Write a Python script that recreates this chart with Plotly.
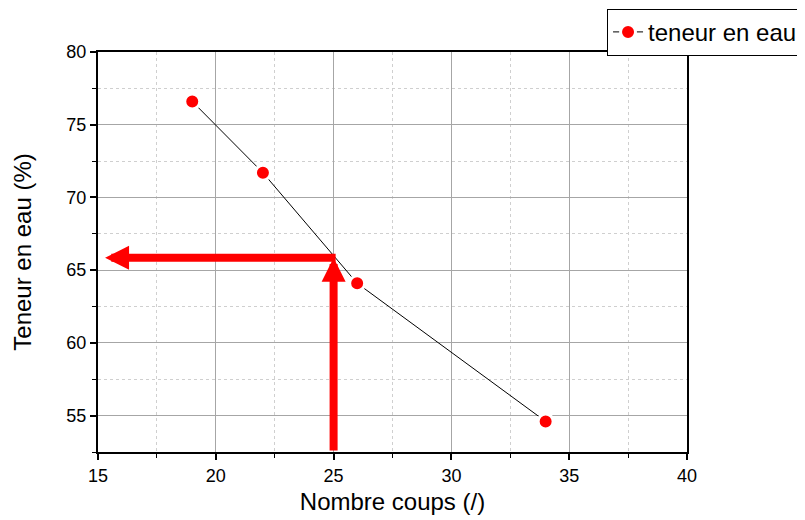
import plotly.graph_objects as go

# Data
nombre_coups = [19, 22, 26, 34]
teneur_eau = [76.6, 71.7, 64.1, 54.6]
series_name = "teneur en eau"

# Reading at 25 blows
x_ref = 25
y_ref = 65.85

x_ticks = [15, 20, 25, 30, 35, 40]
y_ticks = [55, 60, 65, 70, 75, 80]

fig = go.Figure()
fig.add_trace(go.Scatter(
    x=nombre_coups, y=teneur_eau, name=series_name,
    mode="lines+markers",
    line=dict(color="black", width=1),
    marker=dict(color="red", size=15, line=dict(color="white", width=3)),
    cliponaxis=False,
))

font_family = "Liberation Sans, Arial, sans-serif"

# Arrows
fig.add_annotation(
    x=x_ref, y=y_ref, ax=x_ref, ay=52.5,
    xref="x", yref="y", axref="x", ayref="y",
    text="", showarrow=True, arrowhead=2, arrowsize=0.6, arrowwidth=8,
    arrowcolor="red", standoff=0, startstandoff=0,
)
fig.add_annotation(
    x=15.3, y=y_ref, ax=x_ref + 0.15, ay=y_ref,
    xref="x", yref="y", axref="x", ayref="y",
    text="", showarrow=True, arrowhead=2, arrowsize=0.6, arrowwidth=8,
    arrowcolor="red", standoff=0, startstandoff=0,
)

axis_common = dict(
    showline=True, linecolor="black", linewidth=2, mirror=True,
    ticks="outside", ticklen=6, tickwidth=1.5, tickcolor="black",
    showgrid=True, gridcolor="#a6a6a6", gridwidth=1,
    zeroline=False,
    tickfont=dict(family=font_family, size=18, color="black"),
    minor=dict(ticks="outside", ticklen=4, tickcolor="black", tickwidth=1,
               showgrid=True, gridcolor="#cfcfcf", griddash="dot", gridwidth=1,
               dtick=2.5),
    automargin=False,
)

fig.update_xaxes(
    range=[15, 40], tickvals=x_ticks, **axis_common,
    title=dict(text="Nombre coups (/)", font=dict(family=font_family, size=24, color="black"), standoff=9),
)
fig.update_yaxes(
    range=[52.5, 80], tickvals=y_ticks, **axis_common,
    title=dict(text="Teneur en eau (%)", font=dict(family=font_family, size=24, color="black"), standoff=28),
)

# Page body has an 8px margin, so the figure is sized to fit the 805x520 window.
fig.update_layout(
    width=797, height=512,
    margin=dict(l=90, r=118, t=44, b=68, autoexpand=False),
    paper_bgcolor="white", plot_bgcolor="white",
    showlegend=True,
    legend=dict(
        x=1.197, y=1.108, xanchor="right", yanchor="top",
        bordercolor="black", borderwidth=1, bgcolor="white",
        font=dict(family=font_family, size=24, color="black"),
        itemwidth=30,
    ),
)

fig.write_html("out.html")
